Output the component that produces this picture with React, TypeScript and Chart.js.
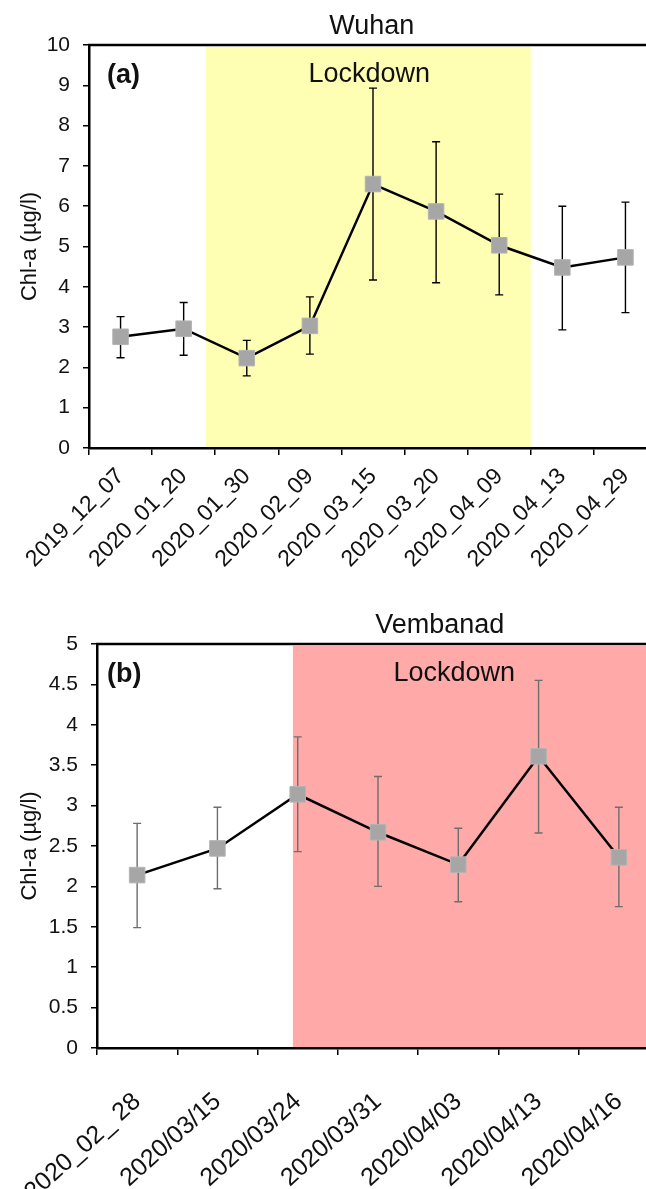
import React, { useEffect, useRef } from 'react';
import { Chart, registerables } from 'chart.js';

Chart.register(...registerables);

// ---------- Data ----------
const wuhanDates = ['2019_12_07', '2020_01_20', '2020_01_30', '2020_02_09', '2020_03_15', '2020_03_20', '2020_04_09', '2020_04_13', '2020_04_29'];
const wuhanMean = [2.76, 2.96, 2.23, 3.03, 6.55, 5.87, 5.03, 4.48, 4.73];
const wuhanUpper = [3.26, 3.61, 2.67, 3.75, 8.93, 7.6, 6.3, 6.0, 6.1];
const wuhanLower = [2.24, 2.3, 1.79, 2.33, 4.17, 4.1, 3.8, 2.93, 3.36];

const vembanadDates = ['2020_02_ 28', '2020/03/15', '2020/03/24', '2020/03/31', '2020/04/03', '2020/04/13', '2020/04/16'];
const vembanadMean = [2.14, 2.47, 3.14, 2.67, 2.27, 3.61, 2.36];
const vembanadUpper = [2.78, 2.98, 3.85, 3.36, 2.72, 4.55, 2.98];
const vembanadLower = [1.49, 1.97, 2.43, 2.0, 1.81, 2.66, 1.75];

// lockdown periods in category-index units
const wuhanLockdown = [1.35, 6.5];
const vembanadLockdown = [1.94, 6.5];

const FONT = '"Liberation Sans", Arial, sans-serif';

type Panel = {
  title: string;
  titleX: number;
  tag: string;
  tagOffset: number;
  labels: string[];
  mean: number[];
  upper: number[];
  lower: number[];
  lockdown: number[];
  lockdownLabelX: number;
  bandColor: string;
  errColor: string;
  yMax: number;
  yStep: number;
  padTop: number;
  xHeight: number;
  yWidth: number;
  xPad: number;
  xRot: number;
  xFont: number;
  width: number;
  height: number;
  top: number;
};

function decorPlugin(p: Panel) {
  return {
    id: 'decor',
    beforeDraw(chart: any) {
      const { ctx, chartArea, scales } = chart;
      const x = scales.x;
      const x0 = x.getPixelForValue(p.lockdown[0]);
      const x1 = Math.min(x.getPixelForValue(p.lockdown[1]), chartArea.right);
      ctx.save();
      ctx.fillStyle = p.bandColor;
      ctx.fillRect(x0, chartArea.top + 2, x1 - x0, chartArea.bottom - chartArea.top - 2);
      ctx.restore();
    },
    beforeDatasetsDraw(chart: any) {
      const { ctx, scales } = chart;
      const x = scales.x;
      const y = scales.y;
      ctx.save();
      ctx.strokeStyle = p.errColor;
      ctx.lineWidth = 1.4;
      const cap = 4;
      p.mean.forEach((_, i) => {
        const px = x.getPixelForValue(i);
        const yt = y.getPixelForValue(p.upper[i]);
        const yb = y.getPixelForValue(p.lower[i]);
        ctx.beginPath();
        ctx.moveTo(px, yt);
        ctx.lineTo(px, yb);
        ctx.moveTo(px - cap, yt);
        ctx.lineTo(px + cap, yt);
        ctx.moveTo(px - cap, yb);
        ctx.lineTo(px + cap, yb);
        ctx.stroke();
      });
      ctx.restore();
    },
    afterDraw(chart: any) {
      const { ctx, chartArea, scales } = chart;
      const x = scales.x;
      ctx.save();
      // top border
      ctx.strokeStyle = '#000';
      ctx.lineWidth = 2.5;
      ctx.beginPath();
      ctx.moveTo(chartArea.left - 1, chartArea.top);
      ctx.lineTo(chartArea.right + 2, chartArea.top);
      ctx.stroke();
      // title
      ctx.fillStyle = '#111';
      ctx.textBaseline = 'alphabetic';
      ctx.textAlign = 'center';
      ctx.font = `27px ${FONT}`;
      ctx.fillText(p.title, x.getPixelForValue(p.titleX), chartArea.top - 11);
      // Lockdown label
      ctx.font = `27px ${FONT}`;
      ctx.fillText('Lockdown', x.getPixelForValue(p.lockdownLabelX), chartArea.top + 37);
      // panel tag
      ctx.textAlign = 'left';
      ctx.font = `bold 27px ${FONT}`;
      ctx.fillText(p.tag, chartArea.left + p.tagOffset, chartArea.top + 38);
      ctx.restore();
    },
  };
}

function buildConfig(p: Panel): any {
  return {
    type: 'line',
    data: {
      labels: p.labels,
      datasets: [
        {
          data: p.mean,
          borderColor: '#000',
          borderWidth: 2.5,
          pointStyle: 'rect',
          pointRadius: 11,
          pointHoverRadius: 11,
          pointBackgroundColor: '#A6A6A6',
          pointBorderColor: '#B4B4B4',
          pointBorderWidth: 1,
          tension: 0,
          fill: false,
          clip: false,
        },
      ],
    },
    options: {
      responsive: false,
      animation: false,
      events: [],
      layout: { autoPadding: false, padding: { top: p.padTop, right: 0, bottom: 0, left: 0 } },
      plugins: {
        legend: { display: false },
        tooltip: { enabled: false },
        title: { display: false },
      },
      scales: {
        x: {
          type: 'category',
          offset: true,
          grid: {
            offset: true,
            drawOnChartArea: false,
            drawTicks: true,
            tickLength: 7,
            color: '#000',
            lineWidth: 1.5,
          },
          border: { display: true, color: '#000', width: 2.5 },
          ticks: {
            autoSkip: false,
            maxRotation: p.xRot,
            minRotation: p.xRot,
            padding: p.xPad,
            color: '#111',
            font: { family: FONT, size: p.xFont },
          },
          afterFit: (s: any) => {
            s.height = p.xHeight;
            s.paddingLeft = 0;
            s.paddingRight = 0;
          },
        },
        y: {
          min: 0,
          max: p.yMax,
          ticks: {
            stepSize: p.yStep,
            padding: 13,
            color: '#111',
            font: { family: FONT, size: 21 },
            callback: (v: any) => String(Number(v)),
          },
          grid: {
            drawOnChartArea: false,
            drawTicks: true,
            tickLength: 6,
            color: '#000',
            lineWidth: 1.5,
          },
          border: { display: true, color: '#000', width: 2.5 },
          title: {
            display: true,
            text: 'Chl-a (µg/l)',
            color: '#111',
            font: { family: FONT, size: 22 },
            padding: { top: 17, bottom: 0 },
          },
          afterFit: (s: any) => {
            s.width = p.yWidth;
          },
        },
      },
    },
    plugins: [decorPlugin(p)],
  };
}

const panelA: Panel = {
  title: 'Wuhan',
  titleX: 3.98,
  tag: '(a)',
  tagOffset: 18,
  labels: wuhanDates,
  mean: wuhanMean,
  upper: wuhanUpper,
  lower: wuhanLower,
  lockdown: wuhanLockdown,
  lockdownLabelX: 3.94,
  bandColor: '#FFFFB4',
  errColor: '#000',
  yMax: 10,
  yStep: 1,
  padTop: 45,
  xHeight: 127,
  yWidth: 89,
  xPad: 8,
  xRot: 45,
  xFont: 23,
  width: 657,
  height: 575,
  top: 0,
};

const panelB: Panel = {
  title: 'Vembanad',
  titleX: 3.77,
  tag: '(b)',
  tagOffset: 10,
  labels: vembanadDates,
  mean: vembanadMean,
  upper: vembanadUpper,
  lower: vembanadLower,
  lockdown: vembanadLockdown,
  lockdownLabelX: 3.95,
  bandColor: '#FFA9A9',
  errColor: '#6E6E6E',
  yMax: 5,
  yStep: 0.5,
  padTop: 69,
  xHeight: 141,
  yWidth: 97,
  xPad: 32,
  xRot: 42,
  xFont: 25,
  width: 659,
  height: 614,
  top: 575,
};

function ChartPanel({ panel }: { panel: Panel }) {
  const ref = useRef<HTMLCanvasElement | null>(null);
  useEffect(() => {
    if (!ref.current) return;
    const chart = new Chart(ref.current, buildConfig(panel));
    return () => chart.destroy();
  }, [panel]);
  return (
    <canvas
      ref={ref}
      width={panel.width}
      height={panel.height}
      style={{ position: 'absolute', left: 0, top: panel.top, width: panel.width, height: panel.height }}
    />
  );
}

export default function App() {
  return (
    <div
      style={{
        position: 'absolute',
        left: 0,
        top: 0,
        width: 646,
        height: 1189,
        overflow: 'hidden',
        background: '#fff',
      }}
    >
      <ChartPanel panel={panelA} />
      <ChartPanel panel={panelB} />
    </div>
  );
}
